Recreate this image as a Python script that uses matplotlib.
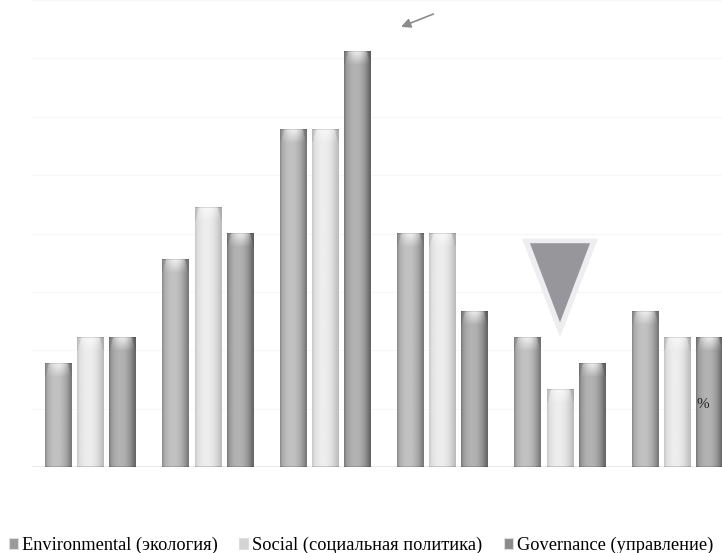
import matplotlib
matplotlib.use("Agg")
import matplotlib.pyplot as plt
import numpy as np
from matplotlib.patches import Patch, Polygon

# data
groups = ["1", "2", "3", "4", "5", "6"]
environmental = [16, 32, 52, 36, 20, 24]
social = [20, 40, 52, 36, 12, 20]
governance = [20, 36, 64, 24, 16, 20]
labels = ["Environmental (экология)", "Social (социальная политика)", "Governance (управление)"]

plt.rcParams['font.family'] = ['Liberation Serif', 'DejaVu Serif']

fig = plt.figure(figsize=(7.22, 5.53), dpi=100)
ax = fig.add_axes([32 / 722, 86 / 553, 704 / 722, 467 / 553])
ax.set_xlim(-0.5, 5.5)
ax.set_ylim(0, 72)
ax.set_autoscale_on(False)

x = np.arange(len(groups))
width = 0.23
step = 0.273

# shading: (dark edge, bright centre) per series
shades = [(0.48, 0.76), (0.74, 0.93), (0.40, 0.70)]
series = [environmental, social, governance]

ppu = ax.transData.transform((0, 1))[1] - ax.transData.transform((0, 0))[1]
cap_px = 13.0


def bar_image(h, lo, hi):
    ny = max(int(h * ppu), 2)
    nx = 40
    xs = np.linspace(0, 1, nx)
    prof = np.clip(1 - np.abs((xs - 0.42) / 0.55) ** 2.2, 0, 1)
    prof[:2] *= 0.6
    prof[-2:] *= 0.6
    col = lo + (hi - lo) * prof
    img = np.tile(col, (ny, 1))
    # bevelled cap at the top
    ys = np.arange(ny)
    for r in ys[ys < cap_px]:
        t = r / cap_px
        inner = np.abs(xs - 0.5) < 0.5 - 0.12 * (1 - t) - 0.02
        glow = np.exp(-((xs - 0.5) / 0.34) ** 2) * (1 - t) ** 0.9 * 0.8
        row = img[r].copy()
        row = np.where(inner, row + (0.98 - row) * glow, row * 0.92)
        img[r] = row
    img[0] = img[0] * 0.88
    img[-1] = img[-1] * 0.85
    return np.clip(img, 0, 1)


ax.yaxis.set_major_locator(plt.MultipleLocator(9))
ax.grid(axis='y', color='#f7f7f7', linewidth=0.8, zorder=0)
ax.axhline(0, color='#e6e6e6', linewidth=1.2, zorder=1)

for i, (vals, (lo, hi)) in enumerate(zip(series, shades)):
    bars = ax.bar(x + (i - 1) * step, vals, width, color=str((lo + hi) / 2), zorder=2)
    for p in bars:
        x0, w, h = p.get_x(), p.get_width(), p.get_height()
        ax.imshow(bar_image(h, lo, hi), cmap='gray', vmin=0, vmax=1,
                  extent=(x0, x0 + w, 0, h), aspect='auto',
                  interpolation='bilinear', zorder=3)

for s in ax.spines.values():
    s.set_visible(False)
ax.set_xticks([])
ax.tick_params(left=False, labelleft=False)

# arrow towards the tallest bar
imax = int(np.argmax(governance))
xt = x[imax] + step
yt = governance[imax]
ax.annotate("", xy=(xt + 0.35, yt + 3.7), xytext=(xt + 0.67, yt + 6.0),
            arrowprops=dict(arrowstyle='-|>', color='#8c8c8c', lw=1.2,
                            mutation_scale=14), annotation_clip=False)

# triangle marker over the group with the lowest bar
imin = int(np.argmin(social))
cx = x[imin]
ax.add_patch(Polygon([(cx - 0.324, 35.2), (cx + 0.324, 35.2), (cx, 20.0)],
                     closed=True, facecolor='#eeeef0', edgecolor='none', zorder=4))
ax.add_patch(Polygon([(cx - 0.256, 34.5), (cx + 0.256, 34.5), (cx, 22.3)],
                     closed=True, facecolor='#97979b', edgecolor='none', zorder=5))

ax.text(x[-1] + step - 0.06, 9.7, "%", fontsize=11, color='#222222',
        ha='center', va='center', zorder=6)

handles = [Patch(facecolor=c, edgecolor='#dddddd', linewidth=0.8)
           for c in ['#9a9a9a', '#d4d4d4', '#8a8a8a']]
fig.legend(handles, labels, loc='lower center', bbox_to_anchor=(0.5, -0.022),
           ncol=3, frameon=False, fontsize=13.2, handlelength=0.5,
           handleheight=0.5, handletextpad=0.2, columnspacing=1.2,
           borderaxespad=0.2)

fig.savefig("out.png", dpi=100)
